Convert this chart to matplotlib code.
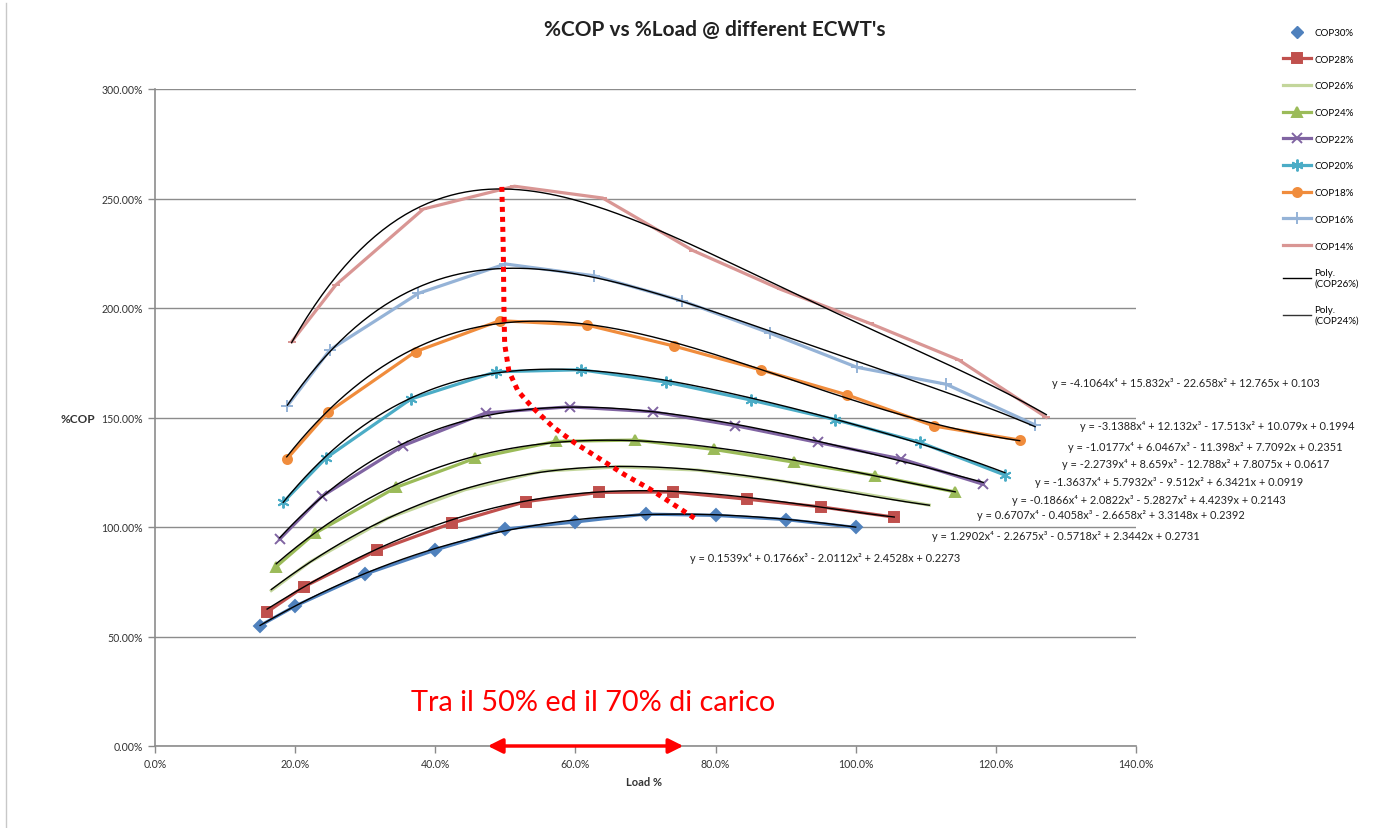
import matplotlib
matplotlib.use('Agg')
import matplotlib.pyplot as plt
from matplotlib.lines import Line2D
import numpy as np

plt.rcParams['font.family'] = ['Lato', 'DejaVu Sans']

# measured points, load % vs COP %, one pair of lists per ECWT
load_30 = [15.0, 20.0, 30.0, 40.0, 50.0, 60.0, 70.0, 80.0, 90.0, 100.0]
cop_30 = [55.0, 63.9, 78.5, 89.5, 99.1, 102.3, 105.9, 105.3, 103.4, 99.8]

load_28 = [16.0, 21.3, 31.7, 42.4, 52.9, 63.4, 73.9, 84.5, 95.0, 105.5]
cop_28 = [61.2, 72.8, 89.3, 101.8, 111.6, 115.8, 116.0, 112.7, 109.2, 104.5]

load_26 = [16.6, 22.1, 33.2, 44.2, 55.3, 66.3, 77.4, 88.4, 99.5, 110.5]
cop_26 = [71.0, 84.0, 104.0, 117.0, 125.5, 127.5, 126.0, 121.5, 116.0, 110.0]

load_24 = [17.3, 22.8, 34.4, 45.7, 57.2, 68.5, 79.8, 91.2, 102.8, 114.2]
cop_24 = [81.9, 97.1, 118.1, 131.4, 139.1, 139.7, 135.4, 129.6, 123.5, 116.0]

load_22 = [17.8, 23.8, 35.4, 47.2, 59.2, 71.0, 82.8, 94.6, 106.5, 118.2]
cop_22 = [94.5, 114.0, 137.1, 152.1, 154.9, 152.6, 146.3, 138.6, 131.1, 119.5]

load_20 = [18.3, 24.4, 36.5, 48.7, 60.8, 72.9, 85.0, 97.1, 109.2, 121.3]
cop_20 = [111.3, 131.5, 158.4, 170.9, 171.8, 166.2, 158.0, 149.0, 138.6, 123.7]

load_18 = [18.8, 24.7, 37.2, 49.2, 61.7, 74.1, 86.5, 98.8, 111.2, 123.4]
cop_18 = [131.0, 152.4, 180.1, 194.2, 192.2, 182.6, 171.7, 160.3, 146.1, 139.7]

load_16 = [18.9, 25.0, 37.6, 50.0, 62.7, 75.2, 87.7, 100.2, 112.9, 125.6]
cop_16 = [155.4, 181.0, 206.7, 220.1, 214.7, 203.3, 188.6, 172.9, 165.2, 146.6]

load_14 = [19.5, 25.8, 38.3, 51.3, 63.9, 76.8, 89.3, 102.0, 114.7, 127.2]
cop_14 = [184.6, 210.5, 245.2, 255.6, 250.2, 226.2, 208.5, 193.0, 176.3, 150.1]

# 4th order trendline coefficients (x and y as fractions), highest power first
fit_30 = [0.1539, 0.1766, -2.0112, 2.4528, 0.2273]
fit_28 = [1.2902, -2.2675, -0.5718, 2.3442, 0.2731]
fit_26 = [0.6707, -0.4058, -2.6658, 3.3148, 0.2392]
fit_24 = [-0.1866, 2.0822, -5.2827, 4.4239, 0.2143]
fit_22 = [-1.3637, 5.7932, -9.512, 6.3421, 0.0919]
fit_20 = [-2.2739, 8.659, -12.788, 7.8075, 0.0617]
fit_18 = [-1.0177, 6.0467, -11.398, 7.7092, 0.2351]
fit_16 = [-3.1388, 12.132, -17.513, 10.079, 0.1994]
fit_14 = [-4.1064, 15.832, -22.658, 12.765, 0.103]

# red dotted guide through the curve peaks
peak_load = [49.5, 49.7, 49.8, 49.9, 50.5, 51.8, 53.8, 56.8, 59.9, 63.5, 67.1, 70.6, 73.9, 77.4]
peak_cop = [255.3, 226.9, 199.5, 183.6, 171.2, 162.1, 154.8, 145.7, 138.4, 131.1, 123.7, 117.4, 110.5, 103.2]
band_load = [47.5, 75.4]

def eq_text(c):
    parts = ['y = %gx\u2074' % c[0]]
    for v, s in zip(c[1:], ['x\u00b3', 'x\u00b2', 'x', '']):
        sign = '-' if v < 0 else '+'
        parts.append(' %s %g%s' % (sign, abs(v), s))
    return ''.join(parts)

series = [
    ('COP30%', load_30, cop_30, fit_30, '#4F81BD', 'D', 6, (690, 558)),
    ('COP28%', load_28, cop_28, fit_28, '#C0504D', 's', 7, (932, 537)),
    ('COP26%', load_26, cop_26, fit_26, '#C3D69B', None, 0, (977, 516)),
    ('COP24%', load_24, cop_24, fit_24, '#9BBB59', '^', 7, (1012, 501)),
    ('COP22%', load_22, cop_22, fit_22, '#8064A2', 'x', 7, (1035, 483)),
    ('COP20%', load_20, cop_20, fit_20, '#4BACC6', (6, 2, 0), 8.5, (1062, 465)),
    ('COP18%', load_18, cop_18, fit_18, '#F08C3C', 'o', 6.5, (1068, 448)),
    ('COP16%', load_16, cop_16, fit_16, '#95B3D7', '+', 9, (1080, 427)),
    ('COP14%', load_14, cop_14, fit_14, '#D99694', '_', 6, (1052, 384)),
]

W, H = 1396, 829
fig = plt.figure(figsize=(W / 100, H / 100), dpi=100)
ax = fig.add_axes([155 / W, 1 - 747 / H, (1136 - 155) / W, (747 - 90) / H])

handles = []
for name, xs, ys, coef, col, mk, ms, pos in series:
    ax.plot(xs, ys, color=col, lw=2.3, marker=mk, ms=ms, mfc=col, mec=col,
            mew=1.4, zorder=2, solid_joinstyle='round')
    xx = np.linspace(xs[0], xs[-1], 200)
    ax.plot(xx, np.polyval(coef, xx / 100) * 100, color='black', lw=1.0, zorder=3)
    fig.text(pos[0] / W, 1 - pos[1] / H, eq_text(coef), fontsize=7.9,
             color='#222222', va='center', ha='left')
    if name == 'COP30%':
        handles.append(Line2D([], [], ls='none', marker=mk, ms=ms, color=col))
    else:
        handles.append(Line2D([], [], color=col, lw=2.3, marker=mk, ms=ms, mew=1.4))
handles.append(Line2D([], [], color='black', lw=1.0))
handles.append(Line2D([], [], color='#333333', lw=1.0))
labels = [s[0] for s in series] + ['Poly.\n(COP26%)', 'Poly.\n(COP24%)']

ax.plot(peak_load, peak_cop, color='red', lw=3.6, ls=(0, (1, 1)),
        dash_capstyle='butt', zorder=4)
ax.annotate('', xy=(band_load[0], 0), xytext=(band_load[1], 0),
            arrowprops=dict(arrowstyle='<|-|>', color='red', lw=2.5,
                            mutation_scale=22, shrinkA=0, shrinkB=0),
            annotation_clip=False, zorder=5)
fig.text(593 / W, 1 - 703 / H, 'Tra il 50% ed il 70% di carico', fontsize=20.8,
         color='red', ha='center', va='center')

ax.set_xlim(0, 140)
ax.set_ylim(0, 300)
ax.set_xticks(np.arange(0, 141, 20))
ax.set_yticks(np.arange(0, 301, 50))
ax.set_xticklabels(['%.1f%%' % v for v in np.arange(0, 141, 20)])
ax.set_yticklabels(['%.2f%%' % v for v in np.arange(0, 301, 50)])
ax.tick_params(labelsize=7.6, colors='#8a8a8a', labelcolor='#333333',
               length=5, width=1)
ax.yaxis.grid(True, color='#8c8c8c', lw=1)
ax.set_axisbelow(True)
for s in ['top', 'right']:
    ax.spines[s].set_visible(False)
for s in ['left', 'bottom']:
    ax.spines[s].set_color('#8c8c8c')
    ax.spines[s].set_linewidth(1.2)

fig.text(715 / W, 1 - 30 / H, "%COP vs %Load @ different ECWT's", fontsize=15,
         fontweight='bold', ha='center', va='center', color='#222222')
fig.text(78 / W, 1 - 420 / H, '%COP', fontsize=8.5, fontweight='bold',
         ha='center', va='center', color='#333333')
fig.text(644 / W, 1 - 783 / H, 'Load %', fontsize=8, fontweight='bold',
         ha='center', va='center', color='#333333')

fig.legend(handles, labels, loc='upper left', bbox_to_anchor=(1283 / W, 1 - 29 / H),
           frameon=False, fontsize=7, handlelength=2.9, handletextpad=0.3,
           labelspacing=1.82, borderaxespad=0, borderpad=0)

fig.add_artist(Line2D([6 / W, 6 / W], [0, 1 - 4 / H], color='#c8c8c8', lw=1))

fig.savefig('out.png', dpi=100)
